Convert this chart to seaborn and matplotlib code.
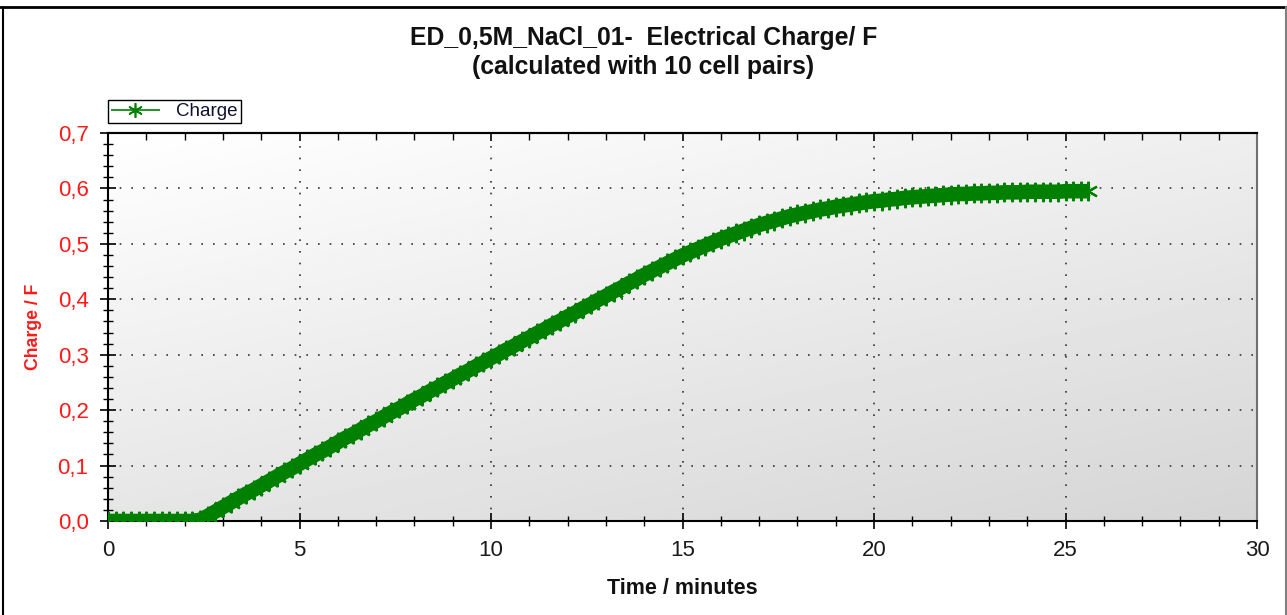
import numpy as np
import pandas as pd
import matplotlib
matplotlib.use('Agg')
import matplotlib.pyplot as plt
from matplotlib.lines import Line2D
from matplotlib.ticker import MultipleLocator, FuncFormatter
import seaborn as sns


# DATA (one sample every 0.2 minutes)
time_min = np.round(np.arange(0, 25.7, 0.2), 1)
charge_f = [
    0.000, 0.000, 0.000, 0.000, 0.000, 0.000, 0.000, 0.000, 0.000, 0.000,  # 0.0 - 1.8
    0.000, 0.000, 0.002, 0.009, 0.017, 0.025, 0.033, 0.041, 0.049, 0.056,  # 2.0 - 3.8
    0.064, 0.072, 0.080, 0.088, 0.095, 0.103, 0.111, 0.119, 0.126, 0.134,  # 4.0 - 5.8
    0.142, 0.150, 0.157, 0.165, 0.173, 0.180, 0.188, 0.196, 0.203, 0.211,  # 6.0 - 7.8
    0.219, 0.226, 0.234, 0.241, 0.249, 0.256, 0.264, 0.271, 0.279, 0.286,  # 8.0 - 9.8
    0.294, 0.301, 0.309, 0.316, 0.324, 0.331, 0.339, 0.346, 0.354, 0.361,  # 10.0 - 11.8
    0.369, 0.376, 0.384, 0.391, 0.399, 0.406, 0.414, 0.421, 0.429, 0.436,  # 12.0 - 13.8
    0.444, 0.451, 0.458, 0.465, 0.472, 0.479, 0.485, 0.491, 0.497, 0.503,  # 14.0 - 15.8
    0.509, 0.514, 0.519, 0.524, 0.529, 0.534, 0.538, 0.542, 0.546, 0.550,  # 16.0 - 17.8
    0.553, 0.556, 0.559, 0.562, 0.564, 0.567, 0.569, 0.571, 0.573, 0.575,  # 18.0 - 19.8
    0.577, 0.578, 0.580, 0.581, 0.583, 0.584, 0.585, 0.586, 0.587, 0.588,  # 20.0 - 21.8
    0.589, 0.590, 0.590, 0.591, 0.591, 0.592, 0.592, 0.593, 0.593, 0.593,  # 22.0 - 23.8
    0.594, 0.594, 0.594, 0.594, 0.594, 0.595, 0.595, 0.595, 0.595,         # 24.0 - 25.6
]

title_line1 = 'ED_0,5M_NaCl_01-  Electrical Charge/ F'
title_line2 = '(calculated with 10 cell pairs)'
x_label = 'Time / minutes'
y_label = 'Charge / F'
series_name = 'Charge'

df = pd.DataFrame({'Time': time_min, 'Charge': charge_f})

sns.set_theme(style='white')
plt.rcParams['font.family'] = ['Liberation Sans', 'DejaVu Sans']

W, H = 1287, 615
fig = plt.figure(figsize=(W / 100, H / 100), dpi=100)
fig.patch.set_facecolor('white')
ax = fig.add_axes([108 / W, (H - 521) / H, 1149 / W, 388 / H])

# grey gradient plot background
gx, gy = np.meshgrid(np.linspace(0, 1, 256), np.linspace(0, 1, 256))
shade = 1 - 0.10 * (1 - gy) - 0.065 * gx
ax.imshow(shade, cmap='gray', vmin=0, vmax=1, extent=[0, 1, 0, 1],
          transform=ax.transAxes, origin='lower', aspect='auto',
          interpolation='bilinear', zorder=0)

# the logger data is so dense that the asterisks merge into one thick band
sns.lineplot(data=df, x='Time', y='Charge', ax=ax, color='#008000',
             marker=(6, 2, 0), markersize=14, markeredgewidth=1.6,
             markeredgecolor='#008000', linewidth=10.5, label=series_name,
             solid_capstyle='butt', solid_joinstyle='round',
             errorbar=None, zorder=3)

ax.set_xlim(0, 30)
ax.set_ylim(0, 0.7)
ax.xaxis.set_major_locator(MultipleLocator(5))
ax.xaxis.set_minor_locator(MultipleLocator(1))
ax.yaxis.set_major_locator(MultipleLocator(0.1))
ax.yaxis.set_minor_locator(MultipleLocator(0.02))
ax.yaxis.set_major_formatter(FuncFormatter(lambda v, p: f'{v:.1f}'.replace('.', ',')))

ax.set_axisbelow(True)
ax.grid(which='major', linestyle=(0, (1, 6)), color='#333333', linewidth=1.2)

ax.tick_params(which='major', direction='inout', length=12, width=1.2,
               color='black', labelsize=16, pad=8)
ax.tick_params(which='minor', direction='inout', length=7, width=1,
               color='black')
ax.tick_params(axis='y', labelcolor='#ff1a1a', left=True, which='both')
ax.tick_params(axis='x', labelcolor='#1a1a1a', bottom=True, which='both')

top = ax.secondary_xaxis('top')
top.xaxis.set_major_locator(MultipleLocator(5))
top.xaxis.set_minor_locator(MultipleLocator(1))
top.tick_params(which='both', direction='in', labeltop=False, color='black')
top.tick_params(which='major', length=6, width=1.2)
top.tick_params(which='minor', length=5, width=1)
top.spines['top'].set_color('black')
top.spines['top'].set_linewidth(1.5)

for side in ['left', 'bottom', 'top']:
    ax.spines[side].set_color('black')
    ax.spines[side].set_linewidth(1.5)
ax.spines['right'].set_color('#707070')
ax.spines['right'].set_linewidth(1.5)

ax.set_xlabel(x_label, fontsize=15.5, fontweight='bold', color='#111111', labelpad=12)
ax.set_ylabel(y_label, fontsize=12.7, fontweight='bold', color='#ff1a1a', labelpad=11)

fig.text(0.5, 1 - 38 / H, title_line1, ha='center', va='center',
         fontsize=17.8, fontweight='bold', color='#111111')
fig.text(0.5, 1 - 67 / H, title_line2, ha='center', va='center',
         fontsize=17.8, fontweight='bold', color='#111111')

leg = ax.legend(loc='lower left', bbox_to_anchor=(108 / W, 1 - 123 / H),
                bbox_transform=fig.transFigure, borderaxespad=0,
                fontsize=13.5, frameon=True, fancybox=False, framealpha=1,
                edgecolor='black', borderpad=0.15, handlelength=2.6,
                handletextpad=0.9, markerscale=0.75)
leg.get_frame().set_linewidth(1)
for t in leg.get_texts():
    t.set_color('#101030')
for h in leg.legend_handles:
    h.set_linewidth(1.2)
    h.set_markeredgewidth(1.2)

# window frame around the picture
fig.add_artist(Line2D([0, 1], [1 - 7 / H, 1 - 7 / H], transform=fig.transFigure,
                      color='black', linewidth=2))
fig.add_artist(Line2D([2.5 / W, 2.5 / W], [0, 1 - 7 / H], transform=fig.transFigure,
                      color='black', linewidth=1.5))
fig.add_artist(Line2D([1 - 1.5 / W, 1 - 1.5 / W], [0, 1 - 7 / H], transform=fig.transFigure,
                      color='#808080', linewidth=1.5))

fig.savefig('out.png', dpi=100)
